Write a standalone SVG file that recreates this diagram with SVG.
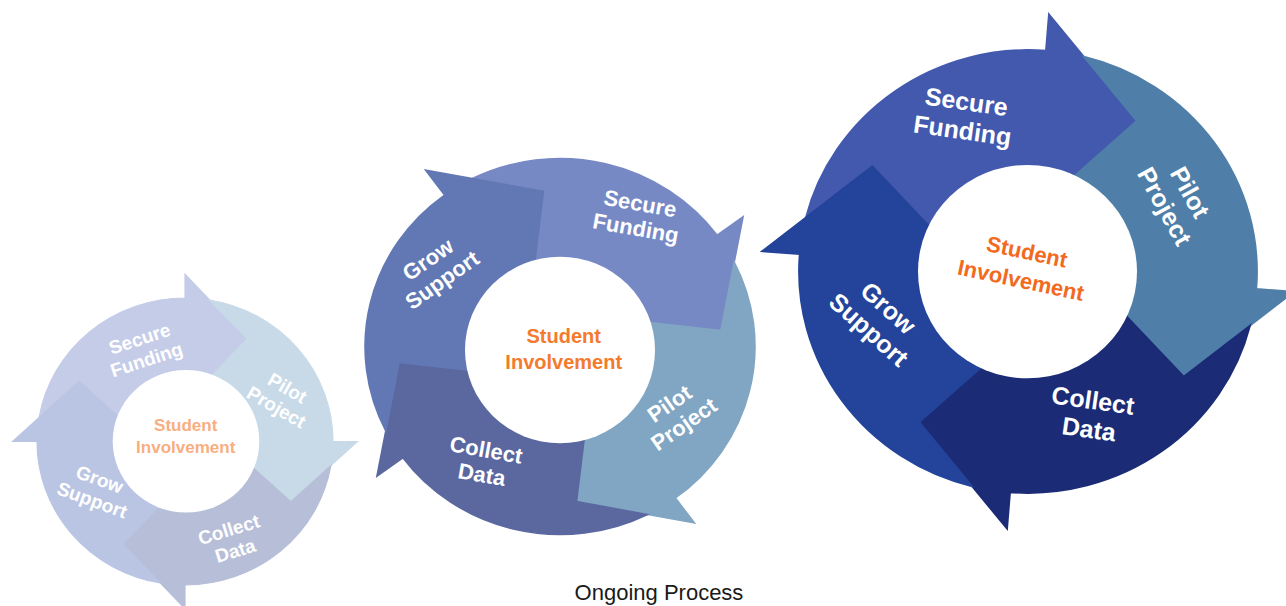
<svg xmlns="http://www.w3.org/2000/svg" xmlns:xlink="http://www.w3.org/1999/xlink" width="1286" height="606" viewBox="0 0 1286 606">
  <style>
    .lbl { font-family: "Liberation Sans", Arial, sans-serif; font-weight: bold; fill: #ffffff; text-anchor: middle; }
    .ctr { font-family: "Liberation Sans", Arial, sans-serif; font-weight: bold; text-anchor: middle; }
    .hole { fill: #ffffff; }
    use { stroke-width: 0.8; vector-effect: non-scaling-stroke; }
    /* small cycle */
    .s1 { fill: #C4CCE8; stroke: #C4CCE8; }
    .s2 { fill: #C8DAE8; stroke: #C8DAE8; }
    .s3 { fill: #B7BED8; stroke: #B7BED8; }
    .s4 { fill: #BAC5E4; stroke: #BAC5E4; }
    /* middle cycle */
    .m1 { fill: #7789C5; stroke: #7789C5; }
    .m2 { fill: #81A6C3; stroke: #81A6C3; }
    .m3 { fill: #5B68A0; stroke: #5B68A0; }
    .m4 { fill: #6278B4; stroke: #6278B4; }
    /* large cycle */
    .b1 { fill: #4259AD; stroke: #4259AD; }
    .b2 { fill: #4F7FA9; stroke: #4F7FA9; }
    .b3 { fill: #1B2B75; stroke: #1B2B75; }
    .b4 { fill: #23449A; stroke: #23449A; }
  </style>
  <defs>
    <!-- one quarter of a ring (outer radius 100) ending in an arrowhead at the top;
         the tail is notched to fit under the previous quarter's arrowhead -->
    <path id="seg" d="M -98.59 -16.71 A 100 100 0 0 1 0 -100 L 0 -116.5 L 42 -71.5 L 14.9 -42.46 A 45 45 0 0 0 -42.46 -14.9 L -71.5 -42 Z"/>
  </defs>

  <!-- small cycle -->
  <g id="small-cycle">
    <g id="small-secure">
      <use xlink:href="#seg" class="s1" transform="translate(185 441.5) scale(1.48 1.435) rotate(0)"/>
      <text class="lbl" font-size="19" transform="translate(143 349) rotate(-18)"><tspan x="0" y="-4.2">Secure</tspan><tspan x="0" y="17.8">Funding</tspan></text>
    </g>
    <g id="small-pilot">
      <use xlink:href="#seg" class="s2" transform="translate(185 441.5) scale(1.48 1.435) rotate(90)"/>
      <text class="lbl" font-size="19" transform="translate(282 397.5) rotate(30)"><tspan x="0" y="-4.2">Pilot</tspan><tspan x="0" y="17.8">Project</tspan></text>
    </g>
    <g id="small-collect">
      <use xlink:href="#seg" class="s3" transform="translate(185 441.5) scale(1.48 1.435) rotate(180)"/>
      <text class="lbl" font-size="19" transform="translate(232 540) rotate(-17)"><tspan x="0" y="-4.2">Collect</tspan><tspan x="0" y="17.8">Data</tspan></text>
    </g>
    <g id="small-grow">
      <use xlink:href="#seg" class="s4" transform="translate(185 441.5) scale(1.48 1.435) rotate(270)"/>
      <text class="lbl" font-size="19" transform="translate(96 489.5) rotate(20)"><tspan x="0" y="-4.2">Grow</tspan><tspan x="0" y="17.8">Support</tspan></text>
    </g>
    <g id="small-center">
      <ellipse class="hole" cx="186" cy="441.3" rx="73.3" ry="71.3"/>
      <text class="ctr" font-size="17" fill="#F8AE80" transform="translate(185.7 436)"><tspan x="0" y="-4.9">Student</tspan><tspan x="0" y="17.1">Involvement</tspan></text>
    </g>
  </g>

  <!-- middle cycle -->
  <g id="middle-cycle">
    <g id="middle-secure">
      <use xlink:href="#seg" class="m1" transform="translate(560 346.5) scale(1.95 1.88) rotate(53.7)"/>
      <text class="lbl" font-size="22" transform="translate(638 215.5) rotate(10)"><tspan x="0" y="-4.6">Secure</tspan><tspan x="0" y="20.4">Funding</tspan></text>
    </g>
    <g id="middle-pilot">
      <use xlink:href="#seg" class="m2" transform="translate(560 346.5) scale(1.95 1.88) rotate(143.7)"/>
      <text class="lbl" font-size="22" transform="translate(676.5 413.7) rotate(-35)"><tspan x="0" y="-4.6">Pilot</tspan><tspan x="0" y="20.4">Project</tspan></text>
    </g>
    <g id="middle-collect">
      <use xlink:href="#seg" class="m3" transform="translate(560 346.5) scale(1.95 1.88) rotate(233.7)"/>
      <text class="lbl" font-size="22" transform="translate(484 462) rotate(10)"><tspan x="0" y="-4.6">Collect</tspan><tspan x="0" y="20.4">Data</tspan></text>
    </g>
    <g id="middle-grow">
      <use xlink:href="#seg" class="m4" transform="translate(560 346.5) scale(1.95 1.88) rotate(323.7)"/>
      <text class="lbl" font-size="22" transform="translate(434.8 269.5) rotate(-35)"><tspan x="0" y="-4.6">Grow</tspan><tspan x="0" y="20.4">Support</tspan></text>
    </g>
    <g id="middle-center">
      <ellipse class="hole" cx="560" cy="350" rx="95" ry="93.3"/>
      <text class="ctr" font-size="20" fill="#F47A2C" transform="translate(563.7 348.7)"><tspan x="0" y="-5.8">Student</tspan><tspan x="0" y="20.2">Involvement</tspan></text>
    </g>
  </g>

  <!-- large cycle -->
  <g id="large-cycle">
    <g id="large-secure">
      <use xlink:href="#seg" class="b1" transform="translate(1028 271.5) scale(2.29 2.215) rotate(4.5)"/>
      <text class="lbl" font-size="25" transform="translate(964.5 115.8) rotate(8)"><tspan x="0" y="-5.5">Secure</tspan><tspan x="0" y="23.5">Funding</tspan></text>
    </g>
    <g id="large-pilot">
      <use xlink:href="#seg" class="b2" transform="translate(1028 271.5) scale(2.29 2.215) rotate(94.5)"/>
      <text class="lbl" font-size="25" transform="translate(1177.5 199) rotate(61)"><tspan x="0" y="-5.5">Pilot</tspan><tspan x="0" y="23.5">Project</tspan></text>
    </g>
    <g id="large-collect">
      <use xlink:href="#seg" class="b3" transform="translate(1028 271.5) scale(2.29 2.215) rotate(184.5)"/>
      <text class="lbl" font-size="25" transform="translate(1091 414.5) rotate(8)"><tspan x="0" y="-5.5">Collect</tspan><tspan x="0" y="23.5">Data</tspan></text>
    </g>
    <g id="large-grow">
      <use xlink:href="#seg" class="b4" transform="translate(1028 271.5) scale(2.29 2.215) rotate(274.5)"/>
      <text class="lbl" font-size="25" transform="translate(878.7 318.5) rotate(42)"><tspan x="0" y="-5.5">Grow</tspan><tspan x="0" y="23.5">Support</tspan></text>
    </g>
    <g id="large-center">
      <ellipse class="hole" cx="1027.5" cy="271.6" rx="109.5" ry="106.7"/>
      <text class="ctr" font-size="22" fill="#F26A1E" transform="translate(1024 265.7) rotate(12)"><tspan x="0" y="-6.6">Student</tspan><tspan x="0" y="22.4">Involvement</tspan></text>
    </g>
  </g>

  <g id="caption">
    <text x="659" y="600" font-family="Liberation Sans, Arial, sans-serif" font-size="22" fill="#1a1a1a" text-anchor="middle">Ongoing Process</text>
  </g>
</svg>
